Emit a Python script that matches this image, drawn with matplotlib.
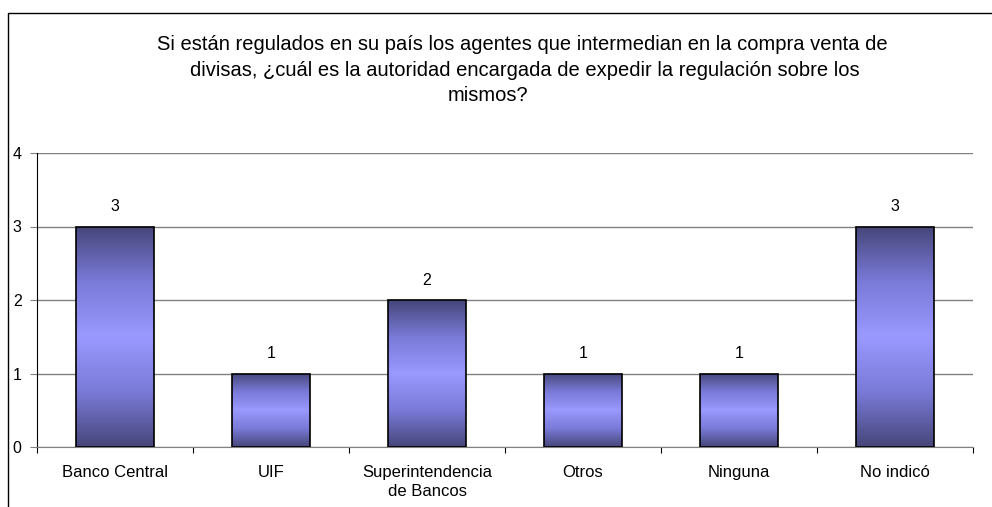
import numpy as np
import matplotlib.pyplot as plt
from matplotlib.colors import LinearSegmentedColormap
from matplotlib.lines import Line2D

plt.rcParams['font.family'] = ['Liberation Sans', 'DejaVu Sans']

categorias = ["Banco Central", "UIF", "Superintendencia\nde Bancos", "Otros", "Ninguna", "No indicó"]
valores = [3, 1, 2, 1, 1, 3]
titulo_lineas = ["Si están regulados en su país los agentes que intermedian en la compra venta de",
                 "divisas, ¿cuál es la autoridad encargada de expedir la regulación sobre los",
                 "mismos?"]

fig = plt.figure(figsize=(9.92, 5.07), dpi=100)
ax = fig.add_axes([37 / 992, 60 / 507, 936 / 992, 294 / 507])

# borde exterior del gráfico (solo arriba e izquierda)
fig.add_artist(Line2D([8 / 992, 8 / 992, 1], [0, 1 - 13 / 507, 1 - 13 / 507],
                      transform=fig.transFigure, color='black', lw=1))

x = np.arange(len(categorias))
ax.set_xlim(-0.5, len(categorias) - 0.5)
ax.set_ylim(0, 4)

cmap = LinearSegmentedColormap.from_list('g', ['#46467a', '#7a7ad8', '#9999ff', '#7a7ad8', '#46467a'])
grad = np.linspace(0, 1, 256).reshape(-1, 1)

for xi, v in zip(x, valores):
    bars = ax.bar(xi, v, width=0.5, color='none', edgecolor='black', lw=1.2, zorder=3)
    b = bars[0]
    im = ax.imshow(grad, extent=[xi - 0.25, xi + 0.25, 0, v], aspect='auto',
                   cmap=cmap, zorder=2, origin='lower')
    im.set_clip_path(b)
    ax.text(xi, v + 0.17, str(v), ha='center', va='bottom', fontsize=11.5)

ax.set_xticks(np.arange(-0.5, len(categorias), 1))
ax.set_xticklabels([])
ax.set_xticks(x, minor=True)
ax.set_xticklabels(categorias, minor=True, fontsize=12, linespacing=1.3)
ax.tick_params(axis='x', which='minor', length=0, pad=13)
ax.tick_params(axis='x', which='major', length=4, direction='out', color='black')
ax.set_yticks([0, 1, 2, 3, 4])
ax.tick_params(axis='y', length=5, direction='out', labelsize=11.5, pad=6, color='#808080')

ax.grid(axis='y', color='#808080', lw=1, zorder=0)
ax.set_axisbelow(True)
for s in ['top', 'right']:
    ax.spines[s].set_visible(False)
ax.spines['bottom'].set_color('#808080')
ax.spines['left'].set_color('black')

# titulo, cada linea centrada como en el original
for linea, cx, cy in zip(titulo_lineas, [522, 525, 488], [45, 70, 95]):
    fig.text(cx / 992, 1 - cy / 507, linea, ha='center', va='center', fontsize=14.5)

fig.savefig('out.png', dpi=100)
